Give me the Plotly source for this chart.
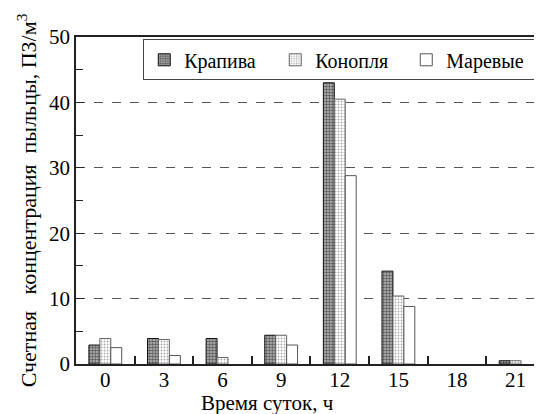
import plotly.graph_objects as go

hours = ["0", "3", "6", "9", "12", "15", "18", "21"]
krapiva = [2.9, 3.9, 3.9, 4.4, 43.0, 14.2, 0, 0.5]
konoplya = [3.9, 3.75, 1.0, 4.4, 40.5, 10.4, 0, 0.5]
marevye = [2.5, 1.3, 0, 2.9, 28.8, 8.8, 0, 0]
y_ticks = [0, 10, 20, 30, 40, 50]

FONT = "Liberation Serif"


def outline(values, width=1):
    return [0 if v == 0 else width for v in values]


fig = go.Figure()
fig.add_trace(go.Bar(
    name="Крапива", x=hours, y=krapiva,
    marker=dict(color="white", line=dict(color="#111", width=outline(krapiva)),
                pattern=dict(shape=".", fgcolor="#000", bgcolor="#bbb", size=3, solidity=0.55)),
))
fig.add_trace(go.Bar(
    name="Конопля", x=hours, y=konoplya,
    marker=dict(color="white", line=dict(color="#666", width=outline(konoplya)),
                pattern=dict(shape=".", fgcolor="#555", bgcolor="#fff", size=3, solidity=0.3)),
))
fig.add_trace(go.Bar(
    name="Маревые", x=hours, y=marevye,
    marker=dict(color="white", line=dict(color="#555", width=outline(marevye))),
))

# page body has an 8px margin: compensate so the plot area lands where the reference has it
fig.update_layout(
    width=542, height=414,
    margin=dict(l=68, r=8, t=29, b=58, autoexpand=False),
    paper_bgcolor="white", plot_bgcolor="white",
    font=dict(family=FONT, size=18, color="black"),
    barmode="group", bargap=0.44, bargroupgap=0,
    showlegend=True,
    legend=dict(orientation="h", x=0.992, xanchor="right", y=0.993, yanchor="top",
                bordercolor="#444", borderwidth=1, bgcolor="white",
                font=dict(family=FONT, size=20, color="black"), traceorder="normal",
                itemwidth=30, tracegroupgap=0, entrywidth=86, entrywidthmode="pixels",
                valign="middle"),
    annotations=[dict(text="Время суток, ч", xref="paper", yref="paper",
                      x=0.412, y=-0.118, xanchor="center", yanchor="middle",
                      showarrow=False, font=dict(family=FONT, size=21, color="black"))],
)
fig.update_xaxes(
    type="category", range=[-0.5, 7.45],
    showline=True, linecolor="#222", linewidth=2, mirror=True,
    ticks="inside", tickson="boundaries", ticklen=8, tickcolor="#222", tickwidth=1.5,
    showgrid=False, tickfont=dict(family=FONT, size=21, color="black"),
    ticklabelstandoff=-4,
)
fig.update_yaxes(
    range=[0, 50], tickvals=y_ticks,
    showline=True, linecolor="#222", linewidth=1.5,
    ticks="inside", ticklen=8, tickcolor="#222",
    minor=dict(dtick=5, ticks="inside", ticklen=7, tickcolor="#222", showgrid=False),
    showgrid=True, gridcolor="#555", griddash="dash", gridwidth=1,
    zeroline=False, tickfont=dict(family=FONT, size=21, color="black"),
    title=dict(text="Счетная   концентрация  пыльцы, ПЗ/м<sup>3</sup>",
               font=dict(family=FONT, size=22, color="black"), standoff=6),
)

fig.write_html("out.html")
